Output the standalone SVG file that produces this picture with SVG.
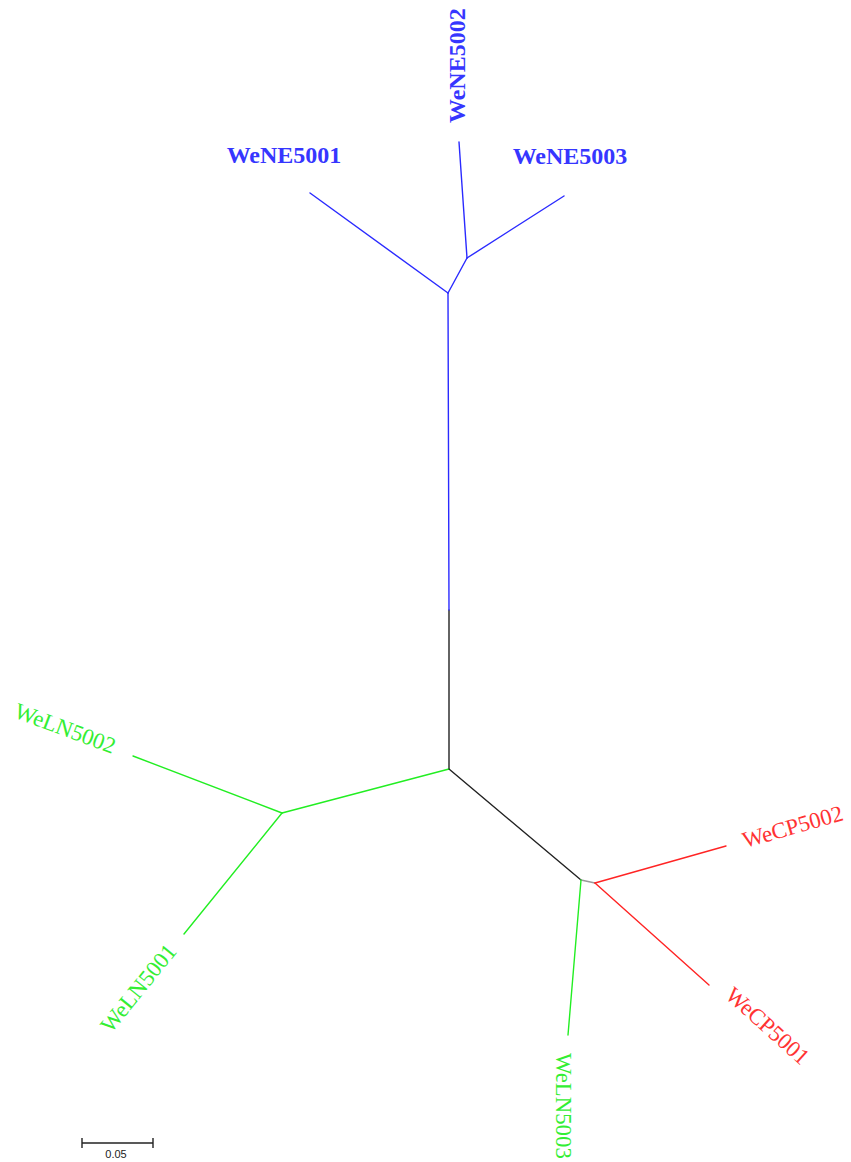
<svg xmlns="http://www.w3.org/2000/svg" width="851" height="1162" viewBox="0 0 851 1162">
<style>
.e{fill:none;stroke-width:1.4;stroke-linecap:round}
.b{stroke:#2a2aff}.g{stroke:#22ee22}.r{stroke:#ff2424}.k{stroke:#222}.gy{stroke:#999}
.tb{font-family:"Liberation Serif",serif;font-size:24px;font-weight:bold;fill:#3636ff}
.tg{font-family:"Liberation Serif",serif;font-size:22.8px;fill:#33ee33}
.tr{font-family:"Liberation Serif",serif;font-size:22.8px;fill:#ff3333}
</style>
<rect width="851" height="1162" fill="#fff"/>
<g id="connectors">
<line class="e k" x1="449" y1="769" x2="449" y2="610"/>
<line class="e b" x1="449" y1="610" x2="448" y2="293"/>
<line class="e b" x1="448" y1="293" x2="310" y2="193"/>
<line class="e b" x1="448" y1="293" x2="467" y2="258"/>
<line class="e b" x1="467" y1="258" x2="459" y2="142"/>
<line class="e b" x1="467" y1="258" x2="564" y2="196"/>
<line class="e g" x1="449" y1="769" x2="282" y2="813"/>
<line class="e g" x1="282" y1="813" x2="133" y2="756"/>
<line class="e g" x1="282" y1="813" x2="184" y2="934"/>
<line class="e k" x1="449" y1="769" x2="581" y2="880"/>
<line class="e gy" x1="581" y1="880" x2="595" y2="883"/>
<line class="e g" x1="581" y1="880" x2="568" y2="1035"/>
<line class="e r" x1="595" y1="883" x2="726" y2="846"/>
<line class="e r" x1="595" y1="883" x2="709" y2="985"/>
</g>
<g id="WeNE5001"><text class="tb" x="284" y="163" text-anchor="middle">WeNE5001</text></g>
<g id="WeNE5002"><text class="tb" transform="translate(465,123) rotate(-90)">WeNE5002</text></g>
<g id="WeNE5003"><text class="tb" x="570" y="164" text-anchor="middle">WeNE5003</text></g>
<g id="WeLN5002"><text class="tg" transform="translate(13,717) rotate(20.5)">WeLN5002</text></g>
<g id="WeLN5001"><text class="tg" transform="translate(111,1034) rotate(-51)">WeLN5001</text></g>
<g id="WeLN5003"><text class="tg" transform="translate(556,1053) rotate(90)">WeLN5003</text></g>
<g id="WeCP5002"><text class="tr" transform="translate(745,848) rotate(-15.8)">WeCP5002</text></g>
<g id="WeCP5001"><text class="tr" transform="translate(724,997) rotate(41.8)">WeCP5001</text></g>
<g id="scale">
<line x1="82" y1="1143" x2="153" y2="1143" stroke="#222" stroke-width="1.4"/>
<line x1="82" y1="1138" x2="82" y2="1148" stroke="#222" stroke-width="1.4"/>
<line x1="153" y1="1138" x2="153" y2="1148" stroke="#222" stroke-width="1.4"/>
<text x="116" y="1158" text-anchor="middle" font-family="Liberation Sans,sans-serif" font-size="11" fill="#222">0.05</text>
</g>
</svg>
